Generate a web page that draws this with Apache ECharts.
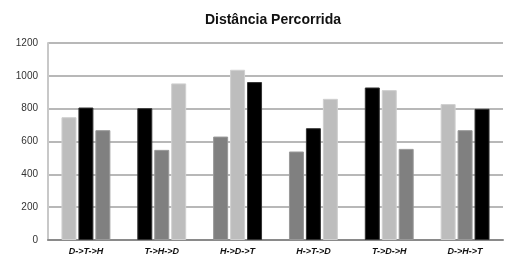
<!DOCTYPE html>
<html>
<head>
<meta charset="utf-8">
<script src="https://cdn.jsdelivr.net/npm/echarts@6/dist/echarts.min.js"></script>
<style>
html,body{margin:0;padding:0;background:#fff;}
#chart{width:505px;height:262px;}
</style>
</head>
<body>
<div id="chart"></div>
<script>
// rotas (categorias)
var routes = ['D->T->H', 'T->H->D', 'H->D->T', 'H->T->D', 'T->D->H', 'D->H->T'];
// distancia de cada trecho da rota
var leg1 = [748, 803, 630, 539, 929, 828];
var leg2 = [807, 549, 1037, 681, 913, 669];
var leg3 = [669, 954, 962, 860, 555, 799];
var yTicks = [0, 200, 400, 600, 800, 1000, 1200];

// cor de cada barra segue a cidade de partida do trecho
var cityColor = { D: '#bdbdbd', T: '#000000', H: '#808080' };
var cityBorder = { D: '#d0d0d0', T: '#333333', H: '#999999' };

function legData(values, idx) {
    return values.map(function (v, i) {
        var city = routes[i].split('->')[idx];
        return {
            value: v,
            itemStyle: { color: cityColor[city], borderColor: cityBorder[city], borderWidth: 1 }
        };
    });
}

var myChart = echarts.init(document.getElementById('chart'));
var option = {
    animation: false,
    title: {
        text: 'Distância Percorrida',
        left: 268,
        textAlign: 'center',
        top: 8,
        textStyle: { fontFamily: 'Liberation Sans', fontSize: 14, fontWeight: 'bold', color: '#111' }
    },
    grid: { left: 48, right: 2, top: 43, bottom: 22 },
    xAxis: {
        type: 'category',
        data: routes,
        axisTick: { show: false },
        axisLine: { lineStyle: { color: '#8a8a8a', width: 2 } },
        axisLabel: { fontFamily: 'Liberation Sans', fontSize: 9, fontStyle: 'italic', fontWeight: 'bold', color: '#111', margin: 7 }
    },
    yAxis: {
        type: 'value',
        min: yTicks[0],
        max: yTicks[yTicks.length - 1],
        interval: 200,
        axisLine: { show: true, lineStyle: { color: '#c8c8c8', width: 2 } },
        axisTick: { show: false },
        axisLabel: {
            fontFamily: 'Liberation Sans', fontSize: 10, color: '#333', margin: 10,
            formatter: function (v) { return String(v); }
        },
        splitLine: { lineStyle: { color: '#b8b8b8', width: 2 } }
    },
    series: [
        { type: 'bar', data: legData(leg1, 0), barWidth: 15, barGap: '13%' },
        { type: 'bar', data: legData(leg2, 1), barWidth: 15, barGap: '13%' },
        { type: 'bar', data: legData(leg3, 2), barWidth: 15, barGap: '13%' }
    ]
};
myChart.setOption(option);
</script>
</body>
</html>
